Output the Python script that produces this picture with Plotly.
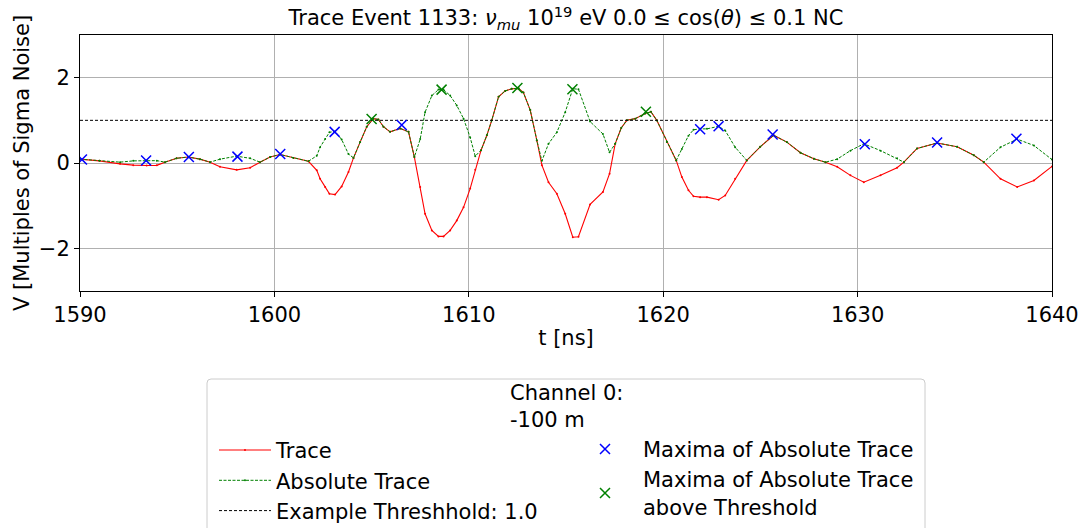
import plotly.graph_objects as go

# ---- data ----
t_ns = [1590.0, 1591.0, 1592.06, 1592.74, 1593.43, 1593.95, 1594.37, 1594.97, 1595.57, 1596.17,
        1596.69, 1597.2, 1598.06, 1598.75, 1599.26, 1599.78, 1600.29, 1600.98, 1601.75, 1602.18,
        1602.35, 1602.61, 1602.83, 1603.12, 1603.46, 1603.81, 1604.07, 1604.41, 1604.75, 1605.09,
        1605.35, 1605.61, 1605.95, 1606.47, 1606.9, 1607.2, 1607.5, 1607.75, 1608.1, 1608.44,
        1608.7, 1609.04, 1609.38, 1609.73, 1610.07, 1610.33, 1610.63, 1610.93, 1611.18, 1611.53,
        1611.87, 1612.21, 1612.56, 1612.81, 1613.16, 1613.5, 1613.76, 1614.1, 1614.53, 1614.96,
        1615.35, 1615.64, 1616.24, 1616.9, 1617.24, 1617.53, 1617.84, 1618.13, 1618.56, 1619.07,
        1619.37, 1619.67, 1620.19, 1620.67, 1620.96, 1621.3, 1621.56, 1621.9, 1622.25, 1622.85,
        1623.19, 1623.7, 1624.3, 1624.99, 1625.68, 1626.36, 1627.06, 1627.75, 1628.35, 1628.95,
        1629.63, 1630.32, 1631.18, 1632.03, 1632.38, 1633.06, 1634.09, 1635.12, 1635.98, 1636.49,
        1637.35, 1638.21, 1639.07, 1640.0]
trace_v = [0.09, 0.05, -0.02, -0.05, -0.06, -0.055, 0.02, 0.11, 0.14, 0.09,
           0.02, -0.09, -0.16, -0.11, 0.02, 0.14, 0.2, 0.12, 0.04, -0.17,
           -0.37, -0.56, -0.72, -0.74, -0.55, -0.21, 0.12, 0.49, 0.85, 1.04,
           1.02, 0.85, 0.73, 0.81, 0.73, 0.14, -0.56, -1.19, -1.58, -1.72,
           -1.72, -1.58, -1.35, -1.04, -0.6, -0.16, 0.3, 0.65, 1.0, 1.55,
           1.69, 1.74, 1.75, 1.65, 1.24, 0.53, -0.05, -0.45, -0.72, -1.19,
           -1.74, -1.73, -0.97, -0.68, -0.25, 0.45, 0.82, 1.0, 1.04, 1.16,
           1.2, 1.0, 0.49, 0.06, -0.33, -0.64, -0.78, -0.8, -0.8, -0.86,
           -0.76, -0.37, 0.06, 0.38, 0.65, 0.49, 0.24, 0.1, 0.02, -0.09,
           -0.29, -0.45, -0.29, -0.11, 0.02, 0.34, 0.47, 0.38, 0.18, 0.02,
           -0.37, -0.56, -0.41, -0.08]
abs_v = [abs(v) for v in trace_v]  # absolute trace

max_t = [1590.1, 1593.4, 1595.6, 1598.1, 1600.3, 1603.1, 1606.55, 1621.9, 1622.85, 1625.63,
         1630.37, 1634.09, 1638.17]
max_v = [0.08, 0.06, 0.14, 0.15, 0.21, 0.73, 0.89, 0.79, 0.86, 0.67,
         0.44, 0.48, 0.57]
above_t = [1605.0, 1608.6, 1612.5, 1615.33, 1619.11]
above_v = [1.03, 1.72, 1.76, 1.73, 1.2]

threshold = 1.0
thr_t = [1590, 1640]
thr_v = [threshold, threshold]

x_ticks = [1590, 1600, 1610, 1620, 1630, 1640]
y_ticks = [-2, 0, 2]
y_ticktext = ["\u22122", "0", "2"]

FONT = "DejaVu Sans"
FS = 21
W, H = 1086, 528
ML, MR, MT, MB = 80, 34, 35, 237
PW, PH = W - ML - MR, H - MT - MB


def px_x(px):  # pixel -> paper x
    return (px - ML) / PW


def px_y(py):  # pixel -> paper y
    return (H - MB - py) / PH


fig = go.Figure()
fig.add_trace(go.Scatter(x=t_ns, y=trace_v, name="Trace", mode="lines+markers", legend="legend",
                         line=dict(color="red", width=1.1), marker=dict(size=2, color="red")))
fig.add_trace(go.Scatter(x=t_ns, y=abs_v, name="Absolute Trace", mode="lines+markers", legend="legend",
                         line=dict(color="green", width=1, dash="3px,1.5px"),
                         marker=dict(size=2, color="green")))
fig.add_trace(go.Scatter(x=thr_t, y=thr_v, name="Example Threshhold: 1.0", mode="lines", legend="legend",
                         line=dict(color="black", width=1, dash="3px,2px")))
fig.add_trace(go.Scatter(x=max_t, y=max_v, name="Maxima of Absolute Trace", mode="markers", legend="legend2",
                         marker=dict(symbol="x-thin", size=10, line=dict(width=1.5, color="blue"), color="blue")))
fig.add_trace(go.Scatter(x=above_t, y=above_v, name="Maxima of Absolute Trace<br>above Threshold",
                         mode="markers", legend="legend2",
                         marker=dict(symbol="x-thin", size=10, line=dict(width=1.5, color="green"), color="green")))

axis_common = dict(showline=True, linecolor="black", linewidth=1, mirror=True,
                   ticks="outside", ticklen=5, tickcolor="black", tickwidth=1,
                   showgrid=True, gridcolor="#b0b0b0", gridwidth=1, zeroline=False,
                   tickfont=dict(size=FS, color="black", family=FONT))

fig.update_xaxes(range=[1590, 1640], tickvals=x_ticks,
                 title=dict(text="t [ns]", font=dict(size=FS, color="black", family=FONT), standoff=4),
                 **axis_common)
fig.update_yaxes(range=[-3, 3], tickvals=y_ticks, ticktext=y_ticktext, **axis_common)

# legend frame (rounded top corners; bottom runs off the page like the reference)
L, R, T, B, r = 207, 925, 379, 600, 4
frame = (f"M {px_x(L + r)},{px_y(T)} L {px_x(R - r)},{px_y(T)} "
         f"Q {px_x(R)},{px_y(T)} {px_x(R)},{px_y(T + r)} L {px_x(R)},{px_y(B)} "
         f"L {px_x(L)},{px_y(B)} L {px_x(L)},{px_y(T + r)} "
         f"Q {px_x(L)},{px_y(T)} {px_x(L + r)},{px_y(T)} Z")

legend_common = dict(orientation="v", xref="container", yref="container", xanchor="left", yanchor="top",
                     bgcolor="rgba(0,0,0,0)", borderwidth=0,
                     font=dict(size=FS, family=FONT, color="black"), traceorder="normal")

fig.update_layout(
    width=W, height=H,
    margin=dict(l=ML, r=MR, t=MT, b=MB, autoexpand=False),
    plot_bgcolor="white", paper_bgcolor="white",
    font=dict(family=FONT, size=FS, color="black"),
    title=dict(text="Trace Event 1133: <i>ν<sub>mu</sub></i> 10<sup>19</sup> eV 0.0 ≤ cos(<i>θ</i>) ≤ 0.1 NC",
               x=px_x(566), xref="paper", xanchor="center", y=1 - 18 / H, yref="container", yanchor="middle",
               font=dict(size=FS, family=FONT, color="black")),
    showlegend=True,
    legend=dict(x=214 / W, y=1 - 429.85 / H, itemwidth=52, **legend_common),
    legend2=dict(x=567 / W, y=1 - 428.85 / H, itemwidth=66, **legend_common),
    shapes=[dict(type="path", path=frame, xref="paper", yref="paper",
                 line=dict(color="#cccccc", width=1), fillcolor="white", layer="below")],
    annotations=[
        dict(text="Channel 0:<br>-100 m", x=px_x(566), y=px_y(406.5), xref="paper", yref="paper",
             xanchor="center", yanchor="middle", align="left", showarrow=False,
             font=dict(size=FS, family=FONT, color="black")),
        dict(text="V [Multiples of Sigma Noise]", x=px_x(22), y=px_y(163), xref="paper", yref="paper",
             xanchor="center", yanchor="middle", textangle=-90, showarrow=False,
             font=dict(size=FS, family=FONT, color="black")),
    ],
)

fig.write_html("out.html")
